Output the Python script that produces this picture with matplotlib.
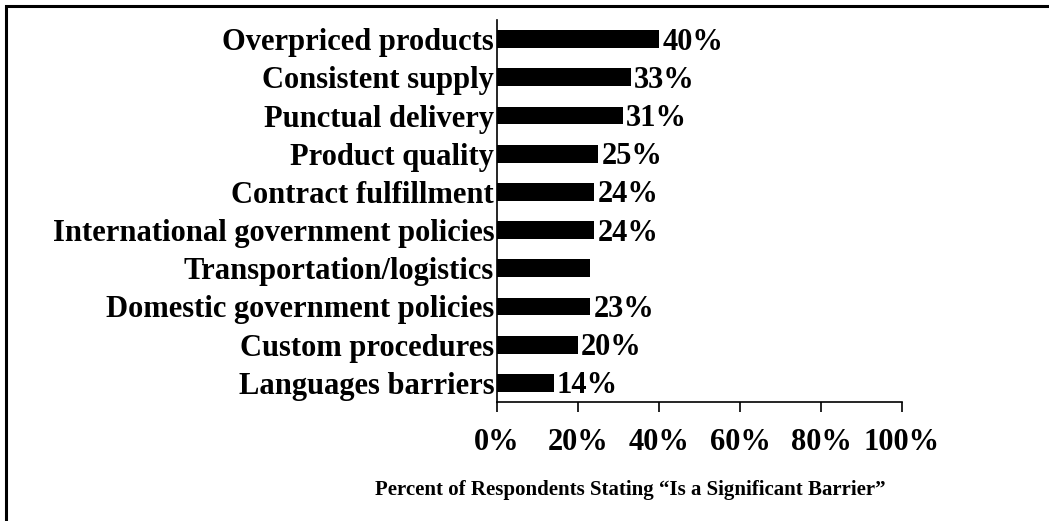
import matplotlib
matplotlib.use('Agg')
from matplotlib import pyplot as plt
from matplotlib import ticker
from matplotlib.patches import Rectangle

barriers = ['Overpriced products', 'Consistent supply', 'Punctual delivery',
            'Product quality', 'Contract fulfillment',
            'International government policies', 'Transportation/logistics',
            'Domestic government policies', 'Custom procedures',
            'Languages barriers']
percent = [40, 33, 31, 25, 24, 24, 23, 23, 20, 14]
shown = [True, True, True, True, True, True, False, True, True, True]
xticks = [0, 20, 40, 60, 80, 100]

plt.rcParams['font.family'] = ['Liberation Serif', 'DejaVu Serif']
plt.rcParams['font.weight'] = 'bold'

fig = plt.figure(figsize=(10.49, 5.21), dpi=100)
ax = fig.add_axes([497 / 1049, 1 - 402 / 521, 405 / 1049, 382 / 521])

# outer frame, only left and top edges fall inside the image
fig.patches.append(Rectangle((6 / 1049, -0.1), 1.2, 1 - 6 / 521 + 0.1,
                             transform=fig.transFigure, fill=False,
                             edgecolor='black', linewidth=2.2))

pos = list(range(len(barriers)))[::-1]
ax.barh(pos, percent, height=0.47, color='black')
for y, v, s in zip(pos, percent, shown):
    if s:
        ax.text(v + 0.8, y - 0.08, '%d%%' % v, ha='left', va='center',
                fontsize=22, fontweight='bold')

ax.set_ylim(-0.5, len(barriers) - 0.5)
ax.set_xlim(0, 100)
ax.set_yticks(pos)
ax.set_yticklabels(barriers, fontsize=22, fontweight='bold')
ax.tick_params(axis='y', length=0, pad=2)
ax.set_xticks(xticks)
ax.xaxis.set_major_formatter(ticker.FuncFormatter(lambda v, p: '%d%%' % v))
ax.tick_params(axis='x', length=7, width=1.2, direction='out', pad=12,
               labelsize=22)
for lab in ax.get_xticklabels():
    lab.set_fontweight('bold')
ax.spines['top'].set_visible(False)
ax.spines['right'].set_visible(False)
ax.spines['left'].set_linewidth(1.2)
ax.spines['bottom'].set_linewidth(1.2)

fig.text(630 / 1049, 1 - 490 / 521,
         'Percent of Respondents Stating \u201cIs a Significant Barrier\u201d',
         ha='center', va='center', fontsize=15, fontweight='bold')

fig.savefig('out.png', dpi=100, facecolor='white')
